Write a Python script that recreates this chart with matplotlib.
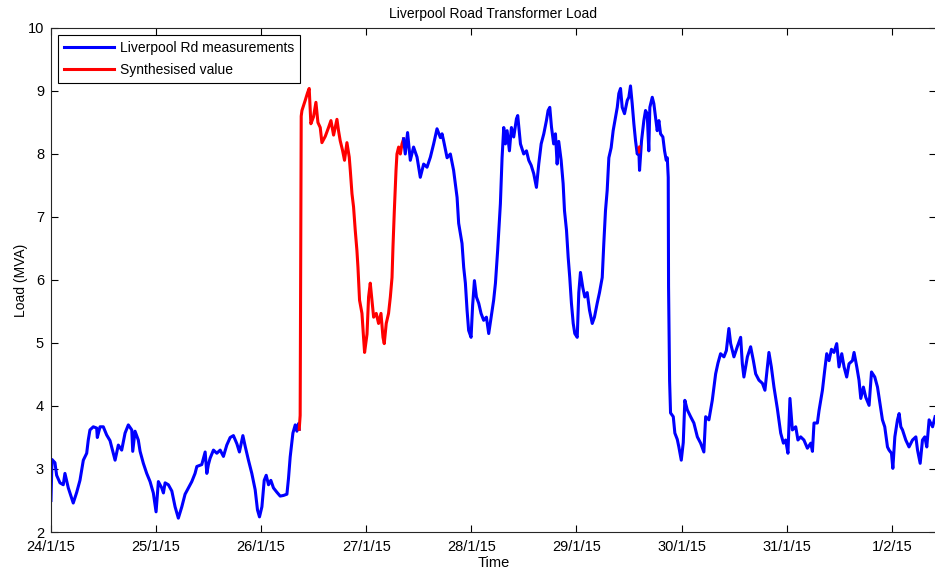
import matplotlib
matplotlib.use("Agg")
from matplotlib import pyplot as plt
import numpy as np

plt.rcParams['font.family'] = ['Liberation Sans', 'DejaVu Sans']

# time in days since 24/1/15 00:00, load in MVA
t_meas1 = [0.000, 0.010, 0.038, 0.054, 0.086, 0.117, 0.133, 0.165, 0.212, 0.245,
           0.276, 0.308, 0.340, 0.355, 0.371, 0.403, 0.435, 0.441, 0.467, 0.498,
           0.530, 0.562, 0.593, 0.610, 0.641, 0.673, 0.705, 0.736, 0.769, 0.778,
           0.800, 0.831, 0.848, 0.879, 0.911, 0.943, 0.974, 1.000, 1.022, 1.054,
           1.070, 1.086, 1.117, 1.150, 1.181, 1.212, 1.245, 1.276, 1.308, 1.340,
           1.371, 1.388, 1.435, 1.467, 1.483, 1.498, 1.514, 1.546, 1.578, 1.610,
           1.641, 1.673, 1.705, 1.736, 1.769, 1.793, 1.826, 1.848, 1.879, 1.911,
           1.943, 1.965, 1.984, 2.007, 2.029, 2.048, 2.070, 2.092, 2.117, 2.150,
           2.181, 2.212, 2.245, 2.260, 2.276, 2.302, 2.324, 2.340, 2.355, 2.362]
v_meas1 = [2.50, 3.15, 3.10, 2.90, 2.78, 2.75, 2.93, 2.70, 2.46, 2.63,
           2.82, 3.14, 3.25, 3.46, 3.62, 3.67, 3.65, 3.50, 3.67, 3.67,
           3.54, 3.45, 3.25, 3.14, 3.38, 3.30, 3.57, 3.70, 3.62, 3.28,
           3.60, 3.46, 3.28, 3.09, 2.93, 2.80, 2.62, 2.32, 2.80, 2.70,
           2.62, 2.78, 2.75, 2.65, 2.40, 2.22, 2.40, 2.60, 2.70, 2.80,
           2.93, 3.04, 3.07, 3.27, 2.93, 3.07, 3.17, 3.30, 3.25, 3.30,
           3.20, 3.38, 3.50, 3.53, 3.40, 3.27, 3.53, 3.36, 3.14, 2.93,
           2.67, 2.35, 2.24, 2.40, 2.82, 2.90, 2.75, 2.82, 2.70, 2.63,
           2.57, 2.58, 2.60, 2.85, 3.19, 3.57, 3.70, 3.60, 3.72, 3.63]

t_synth = [2.362, 2.371, 2.381, 2.388, 2.419, 2.441, 2.457, 2.473, 2.498, 2.521,
           2.540, 2.562, 2.578, 2.610, 2.641, 2.664, 2.689, 2.721, 2.736, 2.752,
           2.774, 2.793, 2.816, 2.838, 2.848, 2.864, 2.879, 2.895, 2.911, 2.921,
           2.936, 2.959, 2.974, 2.984, 3.007, 3.022, 3.038, 3.054, 3.070, 3.095,
           3.117, 3.140, 3.159, 3.171, 3.190, 3.212, 3.229, 3.245, 3.254, 3.267,
           3.283, 3.292, 3.308, 3.324, 3.340, 3.355]
v_synth = [3.63, 3.85, 8.60, 8.69, 8.85, 8.97, 9.04, 8.48, 8.59, 8.82,
           8.50, 8.42, 8.18, 8.28, 8.42, 8.53, 8.30, 8.55, 8.37, 8.21,
           8.06, 7.90, 8.18, 7.95, 7.74, 7.37, 7.16, 6.79, 6.47, 6.20,
           5.68, 5.47, 5.09, 4.85, 5.14, 5.73, 5.95, 5.68, 5.41, 5.47,
           5.31, 5.47, 5.09, 4.99, 5.31, 5.47, 5.73, 6.04, 6.52, 7.10,
           7.74, 8.00, 8.11, 8.00, 8.16, 8.24]

t_meas2 = [3.355, 3.371, 3.393, 3.419, 3.450, 3.483, 3.514, 3.546, 3.578, 3.610,
           3.641, 3.673, 3.705, 3.721, 3.736, 3.769, 3.800, 3.831, 3.864, 3.879,
           3.911, 3.927, 3.943, 3.959, 3.974, 3.997, 4.012, 4.029, 4.048, 4.070,
           4.092, 4.117, 4.143, 4.165, 4.188, 4.212, 4.229, 4.250, 4.276, 4.292,
           4.308, 4.324, 4.340, 4.362, 4.381, 4.403, 4.429, 4.441, 4.467, 4.498,
           4.524, 4.546, 4.569, 4.593, 4.619, 4.641, 4.664, 4.689, 4.714, 4.730,
           4.746, 4.762, 4.783, 4.800, 4.816, 4.831, 4.854, 4.873, 4.886, 4.905,
           4.921, 4.936, 4.952, 4.969, 4.984, 5.007, 5.022, 5.038, 5.060, 5.079,
           5.102, 5.124, 5.150, 5.171, 5.197, 5.219, 5.245, 5.260, 5.276, 5.292,
           5.308, 5.330, 5.349, 5.371, 5.388, 5.403, 5.419, 5.435, 5.457, 5.483,
           5.498, 5.514, 5.530, 5.546, 5.562, 5.578, 5.593, 5.600, 5.619, 5.641,
           5.657, 5.673, 5.688, 5.698, 5.721, 5.736, 5.752, 5.768, 5.784, 5.800,
           5.822, 5.838, 5.854, 5.864, 5.873, 5.876, 5.886, 5.895, 5.921, 5.936,
           5.959, 5.974, 5.997, 6.016, 6.031, 6.054, 6.086, 6.117, 6.150, 6.181,
           6.212, 6.229, 6.260, 6.292, 6.308, 6.324, 6.346, 6.371, 6.403, 6.426,
           6.450, 6.467, 6.498, 6.530, 6.562, 6.578, 6.593, 6.626, 6.657, 6.683,
           6.705, 6.736, 6.769, 6.793, 6.816, 6.831, 6.854, 6.879, 6.911, 6.943,
           6.969, 6.990, 7.012, 7.031, 7.054, 7.086, 7.107, 7.133, 7.164, 7.197,
           7.229, 7.245, 7.260, 7.292, 7.308, 7.340, 7.362, 7.381, 7.403, 7.426,
           7.450, 7.476, 7.498, 7.524, 7.546, 7.571, 7.593, 7.626, 7.641, 7.667,
           7.688, 7.705, 7.730, 7.752, 7.784, 7.807, 7.838, 7.864, 7.888, 7.911,
           7.933, 7.959, 7.974, 7.997, 8.010, 8.029, 8.054, 8.070, 8.086, 8.102,
           8.133, 8.164, 8.197, 8.229, 8.245, 8.270, 8.292, 8.314, 8.333, 8.355,
           8.388, 8.412]
v_meas2 = [8.24, 8.00, 8.34, 7.90, 8.11, 7.95, 7.63, 7.84, 7.79, 7.95,
           8.16, 8.40, 8.26, 8.32, 8.21, 7.94, 8.00, 7.74, 7.31, 6.90,
           6.58, 6.20, 5.95, 5.52, 5.20, 5.09, 5.60, 5.99, 5.73, 5.63,
           5.47, 5.36, 5.41, 5.15, 5.41, 5.68, 5.95, 6.47, 7.21, 7.94,
           8.42, 8.16, 8.37, 8.05, 8.42, 8.27, 8.56, 8.61, 8.16, 8.00,
           8.05, 7.90, 7.82, 7.69, 7.47, 7.84, 8.16, 8.32, 8.53, 8.69,
           8.74, 8.43, 8.16, 8.32, 7.84, 8.20, 7.90, 7.53, 7.10, 6.79,
           6.36, 6.04, 5.63, 5.31, 5.15, 5.09, 5.80, 6.12, 5.88, 5.73,
           5.80, 5.52, 5.31, 5.41, 5.63, 5.80, 6.04, 6.58, 7.10, 7.42,
           7.94, 8.10, 8.37, 8.58, 8.74, 8.96, 9.04, 8.74, 8.64, 8.85,
           8.90, 9.08, 8.80, 8.48, 8.21, 8.00, 8.07, 7.74, 8.21, 8.53,
           8.69, 8.64, 8.05, 8.74, 8.90, 8.80, 8.58, 8.37, 8.53, 8.32,
           8.27, 8.05, 7.90, 7.94, 7.63, 5.90, 4.40, 3.89, 3.83, 3.57,
           3.47, 3.35, 3.14, 3.42, 4.09, 3.94, 3.83, 3.73, 3.51, 3.41,
           3.27, 3.83, 3.78, 4.09, 4.30, 4.51, 4.68, 4.83, 4.78, 4.88,
           5.23, 4.99, 4.78, 4.94, 5.09, 4.67, 4.46, 4.78, 4.94, 4.72,
           4.51, 4.41, 4.36, 4.25, 4.62, 4.85, 4.62, 4.30, 3.96, 3.57,
           3.41, 3.46, 3.25, 4.12, 3.62, 3.67, 3.46, 3.51, 3.46, 3.33,
           3.41, 3.28, 3.73, 3.73, 3.93, 4.25, 4.57, 4.83, 4.72, 4.90,
           4.85, 4.99, 4.62, 4.83, 4.62, 4.46, 4.67, 4.72, 4.85, 4.62,
           4.41, 4.12, 4.30, 4.14, 4.01, 4.54, 4.46, 4.30, 4.04, 3.78,
           3.67, 3.35, 3.30, 3.25, 3.01, 3.51, 3.78, 3.88, 3.67, 3.62,
           3.46, 3.35, 3.46, 3.51, 3.30, 3.09, 3.46, 3.51, 3.35, 3.78,
           3.67, 3.83]

# short synthesised gap on 29/1
t_synth2 = [5.590, 5.596, 5.600]
v_synth2 = [8.10, 8.02, 8.12]

day_labels = ['24/1/15', '25/1/15', '26/1/15', '27/1/15', '28/1/15',
              '29/1/15', '30/1/15', '31/1/15', '1/2/15']

fig = plt.figure(figsize=(9.35, 5.71), dpi=100)
ax = fig.add_axes([0.0545, 0.0683, 0.9465, 0.8827])

ax.plot(t_meas1, v_meas1, color='blue', lw=2.2, label='Liverpool Rd measurements')
ax.plot(t_synth, v_synth, color='red', lw=2.2, label='Synthesised value')
ax.plot(t_meas2, v_meas2, color='blue', lw=2.2)
ax.plot(t_synth2, v_synth2, color='red', lw=1.5)

ax.set_xlim(0, 8.42)
ax.set_ylim(2, 10)
ax.set_xticks(np.arange(len(day_labels)))
ax.set_xticklabels(day_labels)
ax.set_yticks(np.arange(2, 11))
ax.tick_params(direction='in', top=True, right=True, length=5, labelsize=10.5,
               colors='black')
ax.tick_params(axis='x', pad=6)
ax.tick_params(axis='y', pad=5)
for s in ax.spines.values():
    s.set_color('#262626')
    s.set_linewidth(0.8)

ax.set_title('Liverpool Road Transformer Load', fontsize=10, pad=7)
ax.set_xlabel('Time', fontsize=10.5, labelpad=1)
ax.set_ylabel('Load (MVA)', fontsize=10, labelpad=0)

leg = ax.legend(loc='upper left', fontsize=10, handlelength=3.6, fancybox=False,
                framealpha=1, edgecolor='black', borderaxespad=0.5,
                borderpad=0.45, labelspacing=0.55, handletextpad=0.4)
leg.get_frame().set_linewidth(0.8)

plt.savefig('out.png', dpi=100)
plt.close()
